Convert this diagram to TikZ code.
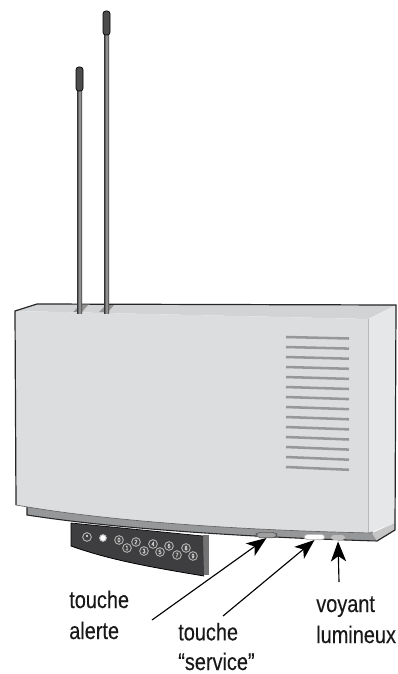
\documentclass[tikz,border=0pt]{standalone}
\usepackage{fontspec}
\setmainfont[FakeStretch=0.83, FakeBold=0.25]{Liberation Sans}
\usetikzlibrary{arrows.meta}
\definecolor{facegray}{RGB}{220,221,223}
\definecolor{topgray}{RGB}{210,211,213}
\definecolor{sidegray}{RGB}{230,231,232}
\definecolor{stripgray}{RGB}{150,151,153}
\definecolor{padgray}{RGB}{62,62,65}
\definecolor{ventgray}{RGB}{150,151,153}

\begin{document}
\begin{tikzpicture}[x=0.75pt, y=-0.75pt, >={Stealth[length=15pt, width=11.5pt, inset=4pt]}]

        % Définition des styles
        \tikzset{
            legende/.style={anchor=base west, inner sep=0pt, align=left, text=black!90, font=\fontsize{18}{23.25}\selectfont},
            bouton/.style={draw=gray!60, fill=black!75, circle, line width=0.7pt, inner sep=0pt, minimum size=6.5pt, text=gray!25, font=\fontsize{4.8}{5}\selectfont},
            fleche/.style={->, line width=0.85pt, black},
            tige/.style={left color=black!80, right color=black!80, middle color=gray!70, draw=none},
            capuchon/.style={draw=black, line width=0.5pt, fill=black!70, rounded corners=2pt},
            ombre/.style={fill=gray!85, draw=none},
            fente/.style={ventgray, line width=1.9pt}
        }
        \useasboundingbox (0,0) rectangle (398,674);

        % --- BOITIER ---
        \fill[stripgray] (27,505) -- (27,515) .. controls (110,528) and (240,537) .. (377,541) -- (372,530) -- cycle;
        \draw[black!85, line width=0.8pt] (27,505) -- (27,515) .. controls (110,528) and (240,537) .. (377,541);
        \fill[topgray] (15,311) -- (37,304) -- (396,305) -- (368,319) -- cycle;
        \fill[sidegray] (368,319) -- (396,305) -- (395,523) -- (368,533) -- cycle;
        \fill[gray!45] (372,533) -- (395,523) -- (395,530) -- (377,541) -- cycle;
        \fill[facegray] (15,311) -- (368,319) -- (368,533) -- (372,533) .. controls (230,530) and (100,520) .. (16,505) -- cycle;
        \draw[gray!55, line width=0.4pt] (368,319) -- (368,533);
        \draw[black!85, line width=0.9pt] (16,505) -- (15,311) -- (37,304) -- (396,305) -- (395,530) -- (377,541);
        \draw[black!60, line width=0.5pt] (16,505) .. controls (100,520) and (230,530) .. (372,533);

        % Fentes d'aération
        \foreach \i in {0,...,13}
            \draw[fente] (286,{337+10*\i}) -- (349,{338.5+10*\i+0.1*\i});

        % --- ANTENNES ---
        \fill[ombre] (73,312) -- (82,312) -- (88,305) -- (80,305) -- cycle;
        \fill[ombre] (99,312) -- (108,312) -- (114,305) -- (106,305) -- cycle;
        \fill[tige] (77,90) rectangle (82,313);
        \fill[tige] (104,34) rectangle (109,313);
        \draw[capuchon] (76,91) -- (76,67) -- (83,67) -- (83,91) -- cycle;
        \draw[capuchon] (103,35) -- (103,11) -- (110,11) -- (110,35) -- cycle;

        % --- CLAVIER ---
        \fill[black!55] (203,535) rectangle (208.5,575);
        \fill[padgray] (71,523) -- (203,536) -- (204,576) .. controls (150,567) and (110,560) .. (71,546) -- cycle;
        \draw[black, line width=0.5pt] (71,523) -- (203,536);
        \draw[black, line width=0.6pt] (71,523) -- (71,546) .. controls (110,560) and (150,567) .. (204,576);
        \node[bouton] (etoile) at (87,537) {*};
        \node[bouton, fill=white, minimum size=5pt, draw=gray!50] (carre) at (103,538) {};
        \foreach \d/\x/\y in {0/119/540, 1/127/548, 2/136/542, 3/144/551, 4/153/544, 5/160/552, 6/169/546, 7/177/555, 8/186/548, 9/193/556}
            \node[bouton] (t\d) at (\x,\y) {\d};

        % --- TOUCHES ET VOYANT ---
        \node[draw=gray!70!black, fill=gray!75, rounded corners=3pt, line width=0.5pt, inner sep=0pt, minimum width=15.5pt, minimum height=4pt] (alerte) at (266.5,535) {};
        \node[draw=gray!60, fill=white, rounded corners=2.5pt, line width=0.5pt, inner sep=0pt, minimum width=15.5pt, minimum height=4pt] (service) at (314.5,537) {};
        \node[fill=gray!50, rounded corners=2pt, inner sep=0pt, minimum width=10.5pt, minimum height=3.5pt] (voyant) at (338,537.5) {};

        % --- LEGENDES ---
        \node[legende] (txtalerte) at (69,639) {touche\\alerte};
        \node[legende] (txtservice) at (178,670) {touche\\[-1pt]“service”};
        \node[legende] (txtvoyant) at (316,643) {voyant\\lumineux};

        % Flèches vers le boîtier
        \coordinate (depalerte) at (152,620);
        \coordinate (depservice) at (223,616);
        \coordinate (depvoyant) at (339,582);
        \draw[fleche] (depalerte) -- (alerte.south);
        \draw[fleche] (depservice) -- (service.south);
        \draw[fleche, shorten >=1pt] (depvoyant) -- (voyant.south);

    \end{tikzpicture}
\end{document}
